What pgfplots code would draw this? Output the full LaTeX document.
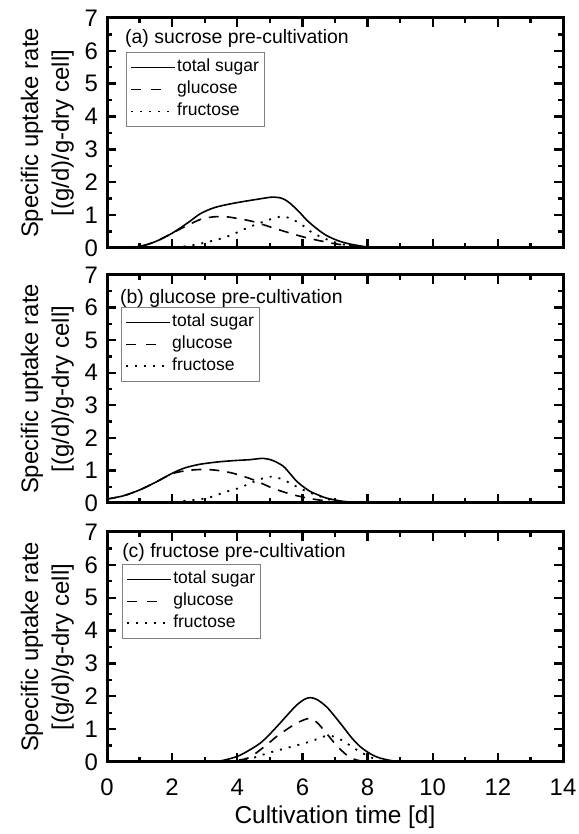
\documentclass[border=0pt]{standalone}
\usepackage{fontspec}
\setmainfont{Liberation Sans}
\usepackage{pgfplots}
\pgfplotsset{compat=1.18}
\begin{document}
\begin{tikzpicture}[x=1bp,y=1bp]
\useasboundingbox (0,0) rectangle (579,834);
\pgfplotsset{
 panel/.style={
  scale only axis, width=456bp, height=230bp,
  xmin=0,xmax=14,ymin=0,ymax=7,
  xtick={0,2,...,14}, ytick={0,1,...,7},
  minor x tick num=1, minor y tick num=1,
  tick pos=both, tick align=inside,
  axis line style={line width=3bp},
  major tick length=9bp, minor tick length=5bp,
  every tick/.append style={line width=2.4bp, black},
  /pgf/number format/assume math mode=true,
  ticklabel style={font=\fontsize{24}{24}\selectfont},
  yticklabel style={anchor=east, inner sep=0pt, xshift=-9bp},
  ylabel={Specific uptake rate\\{}[(g/d)/g-dry cell]},
  ylabel style={align=center, font=\fontsize{24}{31}\selectfont, at={(axis description cs:-0.131,0.5)}, anchor=center},
  legend image code/.code={\draw[##1] (0bp,0bp) -- (44bp,0bp);},
  legend style={anchor=north west, draw=gray, line width=0.8bp,
    font=\fontsize{17.6}{17.6}\selectfont, inner xsep=4bp, inner ysep=6bp,
    row sep=4bp, nodes={inner sep=1bp, text height=12.5bp, text depth=3.5bp},
    cells={anchor=west}},
 },
 tot/.style={black, line width=1.6bp, smooth},
 glu/.style={black, line width=1.6bp, dash pattern=on 10bp off 8bp, smooth,
   legend image code/.code={\draw[##1, solid] (0bp,0bp) -- (10bp,0bp) (20bp,0bp) -- (30bp,0bp); \path (44bp,0bp);}},
 fru/.style={black, line width=1.8bp, dash pattern=on 2bp off 7bp, smooth},
}
% (a)
\begin{axis}[panel, at={(107bp,586bp)}, anchor=south west, xticklabels={},
  legend style={at={(0.0417,0.852)}}]
\addplot[tot] coordinates {(0,0) (0.5,0.01) (1,0.05) (1.5,0.2) (2,0.45) (2.5,0.78) (2.86,1.04) (3.3,1.23) (3.88,1.36) (4.6,1.48) (5.1,1.55) (5.4,1.5) (5.62,1.36) (5.9,1.1) (6.13,0.85) (6.45,0.58) (6.74,0.38) (7.1,0.22) (7.46,0.12) (8,0.03) (8.5,0.01) (9,0)};
\addplot[glu] coordinates {(0,0) (1,0.05) (1.5,0.2) (2,0.45) (2.45,0.68) (2.9,0.88) (3.3,0.95) (3.67,0.95) (4.1,0.88) (4.5,0.8) (5.3,0.55) (6.13,0.31) (6.94,0.14) (7.5,0.06) (8,0.01)};
\addplot[fru] coordinates {(1.8,0) (2.4,0.05) (2.95,0.15) (3.67,0.34) (4.4,0.65) (5.1,0.9) (5.47,0.95) (5.92,0.75) (6.33,0.45) (6.94,0.19) (7.5,0.06) (8,0.01)};
\legend{total sugar, glucose, fructose}
\node[anchor=west, font=\fontsize{19.5}{19.5}\selectfont, inner sep=0pt] at (axis description cs:0.0395,0.909) {(a) sucrose pre-cultivation};
\end{axis}
% (b)
\begin{axis}[panel, height=228bp, at={(107bp,331bp)}, anchor=south west, xticklabels={},
  legend style={at={(0.0307,0.860)}}]
\addplot[tot] coordinates {(0,0.12) (0.5,0.22) (1,0.4) (1.5,0.64) (2,0.91) (2.4,1.08) (2.86,1.19) (3.4,1.26) (3.88,1.3) (4.39,1.33) (4.8,1.37) (5.1,1.3) (5.41,1.13) (5.62,0.9) (5.82,0.67) (6.0,0.52) (6.23,0.36) (6.5,0.24) (6.74,0.15) (7.25,0.05) (7.8,0.01) (8.3,0)};
\addplot[glu] coordinates {(0,0.12) (0.5,0.22) (1,0.4) (1.5,0.64) (2,0.9) (2.5,1.0) (2.96,1.03) (3.4,1.0) (3.88,0.91) (4.5,0.71) (5.1,0.45) (5.72,0.25) (6.33,0.12) (7,0.03) (7.5,0)};
\addplot[fru] coordinates {(1.8,0) (2.24,0.05) (3.06,0.15) (3.67,0.35) (4.08,0.47) (4.7,0.73) (5.1,0.81) (5.5,0.67) (5.92,0.45) (6.33,0.28) (6.85,0.1) (7.3,0.03) (7.8,0)};
\legend{total sugar, glucose, fructose}
\node[anchor=west, font=\fontsize{19.5}{19.5}\selectfont, inner sep=0pt] at (axis description cs:0.0285,0.899) {(b) glucose pre-cultivation};
\end{axis}
% (c)
\begin{axis}[panel, at={(107bp,72bp)}, anchor=south west,
  xticklabel style={anchor=center, yshift=-25bp},
  xlabel={Cultivation time [d]},
  xlabel style={at={(axis description cs:0.5,-0.239)}, anchor=center, font=\fontsize{24.5}{24.5}\selectfont},
  legend style={at={(0.033,0.861)}}]
\addplot[tot] coordinates {(3,0) (3.47,0.03) (3.97,0.16) (4.3,0.32) (4.7,0.57) (5.0,0.85) (5.31,1.18) (5.6,1.5) (5.82,1.73) (6.05,1.9) (6.23,1.96) (6.45,1.9) (6.74,1.68) (7.0,1.38) (7.25,1.07) (7.5,0.75) (7.77,0.47) (8.1,0.24) (8.38,0.12) (8.8,0.03) (9.2,0)};
\addplot[glu] coordinates {(3.5,0) (4,0.05) (4.39,0.15) (4.9,0.52) (5.2,0.77) (5.56,1.02) (5.9,1.22) (6.23,1.33) (6.45,1.2) (6.74,0.87) (7.05,0.5) (7.36,0.21) (7.6,0.08) (7.9,0.01)};
\addplot[fru] coordinates {(3.7,0) (4.39,0.1) (4.9,0.26) (5.5,0.42) (6.23,0.62) (6.64,0.77) (6.85,0.8) (7.1,0.72) (7.36,0.57) (7.77,0.31) (8.3,0.06) (8.7,0)};
\legend{total sugar, glucose, fructose}
\node[anchor=west, font=\fontsize{19.5}{19.5}\selectfont, inner sep=0pt] at (axis description cs:0.033,0.909) {(c) fructose pre-cultivation};
\end{axis}
\end{tikzpicture}
\end{document}
